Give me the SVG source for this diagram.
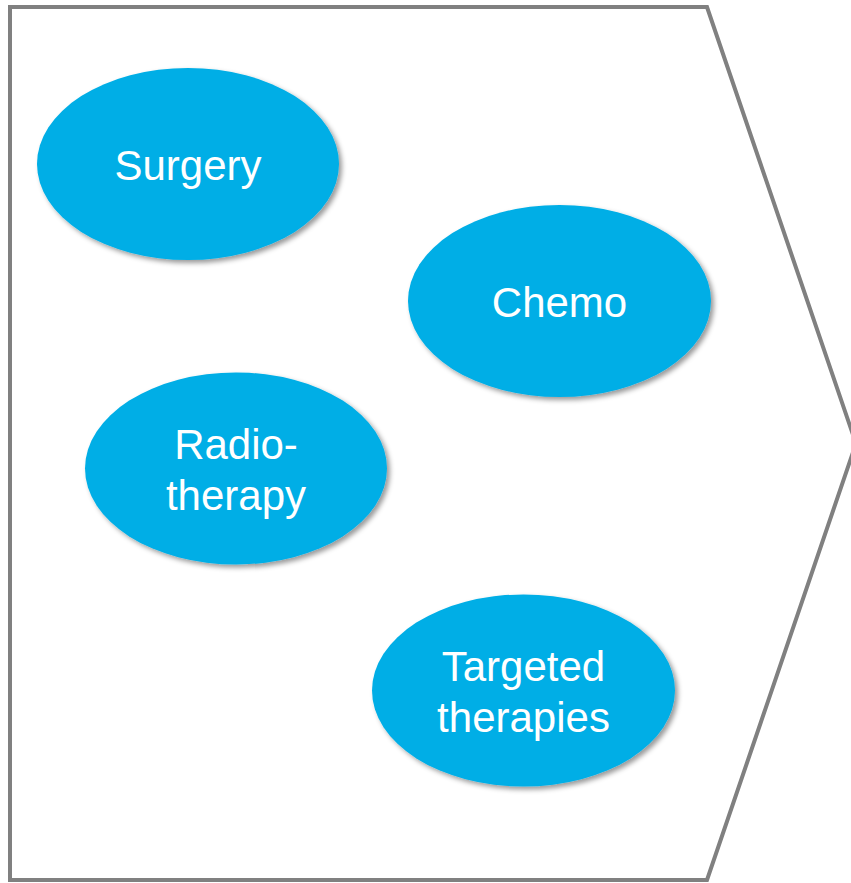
<svg xmlns="http://www.w3.org/2000/svg" width="851" height="883" viewBox="0 0 851 883">
<defs>
<filter id="sh" x="-10%" y="-10%" width="125%" height="130%">
<feDropShadow dx="3" dy="3" stdDeviation="2.5" flood-color="#000" flood-opacity="0.4"/>
</filter>
<style>
.node ellipse{fill:#00AEE6;filter:url(#sh)}
.node text{fill:#fff;font-family:"Liberation Sans",Arial,sans-serif;font-size:42px;text-anchor:middle}
.frame{fill:#fff;stroke:#808080;stroke-width:4;stroke-linejoin:miter}
</style>
</defs>
<rect width="851" height="883" fill="#fff"/>
<polygon id="frame" class="frame" points="10,7 707,7 856,443.5 707,880 10,880"/>
<g id="connectors"/>
<g id="surgery" class="node">
<ellipse cx="188" cy="164" rx="151" ry="96"/>
<text x="188" y="180">Surgery</text>
</g>
<g id="chemo" class="node">
<ellipse cx="559.5" cy="301" rx="151.5" ry="96"/>
<text x="559.5" y="317">Chemo</text>
</g>
<g id="radiotherapy" class="node">
<ellipse cx="236" cy="468.5" rx="151" ry="96"/>
<text x="236" y="459">Radio-</text>
<text x="236" y="510">therapy</text>
</g>
<g id="targeted" class="node">
<ellipse cx="523.5" cy="690.5" rx="151.5" ry="96"/>
<text x="523.5" y="681">Targeted</text>
<text x="523.5" y="732">therapies</text>
</g>
</svg>
